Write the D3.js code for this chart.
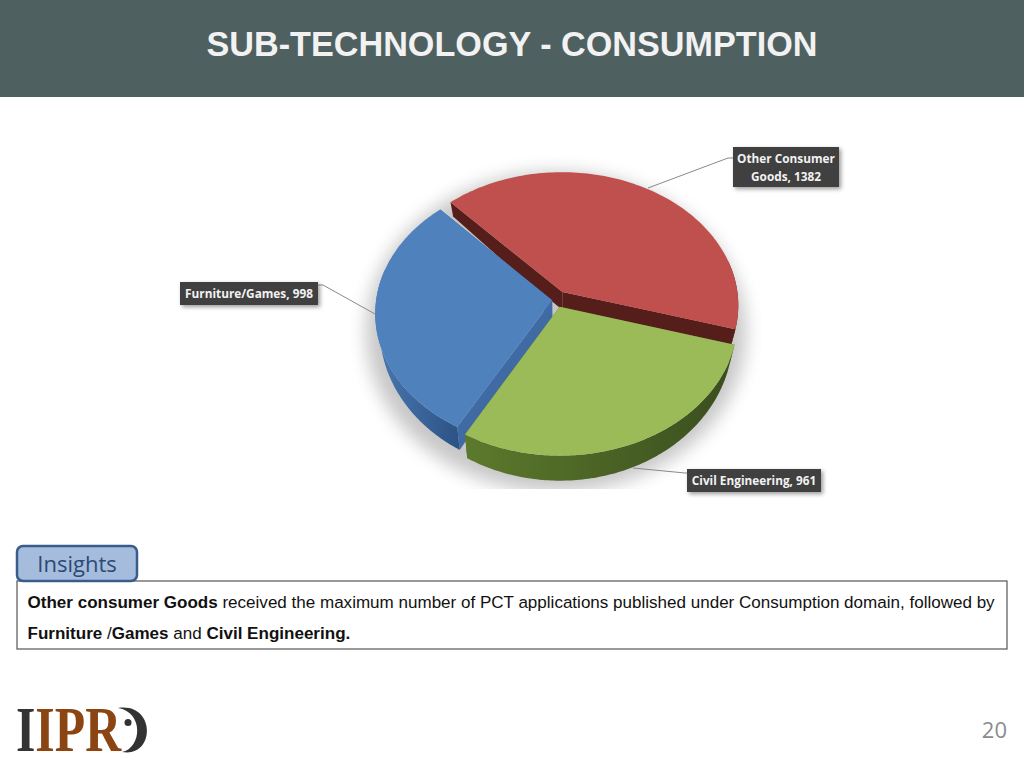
<!DOCTYPE html>
<html><head><meta charset="utf-8">
<script src="https://cdnjs.cloudflare.com/ajax/libs/d3/7.8.5/d3.min.js"></script>
<style>html,body{margin:0;padding:0;background:#fff}svg{display:block}</style></head>
<body><svg id="c" width="1024" height="768"></svg>
<script>
const categories = ["Other Consumer Goods", "Civil Engineering", "Furniture/Games"];
const values = [1382, 961, 998];
const explode = [0.07, 0.055, 0.022];
const topColors = ["#c0504d", "#9bbb59", "#4f81bd"];
const cutColors = ["#551e1b", "#4f6a2a", "#3f6aa3"];
const wallStops = [["#6b2a27","#4f1a18"],["#5c7a2c","#3a4d1e"],["#4a78b2","#2c5285"]];
const labelLines = [["Other Consumer","Goods, 1382"],["Civil Engineering, 961"],["Furniture/Games, 998"]];
const labelBoxes = [[733,147,106,40],[687,469,134,23],[180,282,138,23]];
const leaders = [[[648,188],[728,158],[733,158]],[[633,468],[685,473],[688,473]],[[375,314],[323,285],[318,285]]];
const insightLine1 = [["Other consumer Goods",true],[" received the maximum number of PCT applications published under Consumption domain, followed by",false]];
const insightLine2 = [["Furniture ",true],["/",false],["Games",true],[" and ",false],["Civil Engineering.",true]];

const svg = d3.select("#c");
const defs = svg.append("defs");
defs.append("filter").attr("id","blur").attr("x","-30%").attr("y","-30%").attr("width","160%").attr("height","160%")
  .append("feGaussianBlur").attr("stdDeviation",9);
const ds = defs.append("filter").attr("id","ds").attr("x","-10%").attr("y","-20%").attr("width","125%").attr("height","150%");
ds.append("feDropShadow").attr("dx",2).attr("dy",2).attr("stdDeviation",2).attr("flood-color","#000").attr("flood-opacity",.4);
defs.append("clipPath").attr("id","shadowClip").append("rect").attr("x",340).attr("y",150).attr("width",430).attr("height",339);

// header
svg.append("rect").attr("width",1024).attr("height",97).attr("fill","#4f6060");
svg.append("text").attr("x",512).attr("y",56).attr("text-anchor","middle").attr("fill","#f2f2f2")
  .attr("font-family","Liberation Sans").attr("font-weight","bold").attr("font-size",34.2).text("SUB-TECHNOLOGY - CONSUMPTION");

// pie geometry
const cx=556, cy=300, rx=176, ry=133, k=0.097;
const px=d3.scaleLinear().domain([-1,1]).range([cx-rx,cx+rx]);
const py=d3.scaleLinear().domain([-1,1]).range([cy-ry,cy+ry]);
const proj=(u,v)=>{const w=1-k*v;return [px(u/w),py(v/w)];};
const depth=d3.scaleLinear().domain([200,250,340,455]).range([14,18,17,25]);
const lower=([x,y])=>[cx+(x-cx)*0.975, y+depth(y)];
const deg=Math.PI/180;
const pie=d3.pie().sort(null).value(d=>d).startAngle(-43*deg).endAngle(317*deg);
const arcs=pie(values);
const line=d3.line();

const g=svg.append("g");
g.append("ellipse").attr("cx",556).attr("cy",332).attr("rx",190).attr("ry",160)
  .attr("fill","#000").attr("opacity",.22).attr("filter","url(#blur)").attr("clip-path","url(#shadowClip)");

const drawOrder=[0,2,1];
drawOrder.forEach(i=>{
  const a=arcs[i], mid=(a.startAngle+a.endAngle)/2;
  const ox=Math.sin(mid)*explode[i], oy=-Math.cos(mid)*explode[i];
  const P=t=>proj(ox+Math.sin(t),oy-Math.cos(t));
  const apex=proj(ox,oy);
  const ts=d3.range(0,121).map(j=>a.startAngle+(a.endAngle-a.startAngle)*j/120);
  const rim=ts.map(P);
  const grad=defs.append("linearGradient").attr("id","w"+i).attr("x1","0").attr("x2","1").attr("y1","0").attr("y2","0");
  grad.append("stop").attr("offset","0").attr("stop-color",wallStops[i][0]);
  grad.append("stop").attr("offset","1").attr("stop-color",wallStops[i][1]);
  // cut walls
  [[apex,rim[0]],[apex,rim[120]]].forEach(([p,q])=>{
    const mp=[(p[0]+q[0])/2,(p[1]+q[1])/2];
    g.append("path").attr("d",line([p,mp,q,lower(q),lower(mp),lower(p)])+"Z").attr("fill",cutColors[i]);
  });
  // outer wall
  const front=ts.filter(t=>Math.cos(t)<0.25).map(P);
  if(front.length) g.append("path").attr("d",line(front.concat(front.map(lower).reverse()))+"Z").attr("fill",`url(#w${i})`);
  // top
  g.append("path").attr("d",line([apex,...rim])+"Z").attr("fill",topColors[i]);
});

// leaders and labels
leaders.forEach(l=>svg.append("path").attr("d",line(l)).attr("fill","none").attr("stroke","#8a8a8a").attr("stroke-width",1));
labelBoxes.forEach((b,i)=>{
  svg.append("rect").attr("x",b[0]).attr("y",b[1]).attr("width",b[2]).attr("height",b[3]).attr("fill","#3f3f3f").attr("filter","url(#ds)");
  labelLines[i].forEach((t,j)=>svg.append("text").attr("x",b[0]+b[2]/2).attr("y",b[1]+15.5+j*18).attr("text-anchor","middle")
    .attr("fill","#f2f2f2").attr("font-family","Open Sans").attr("font-weight",700).attr("font-size",11.8).text(t));
});

// insights
svg.append("rect").attr("x",17).attr("y",581).attr("width",990).attr("height",68).attr("fill","#fff").attr("stroke","#555").attr("stroke-width",1.2);
svg.append("rect").attr("x",17).attr("y",546).attr("width",120).attr("height",35).attr("rx",6).attr("fill","#a5bcdc").attr("stroke","#385d8a").attr("stroke-width",2.5);
svg.append("text").attr("x",77).attr("y",572).attr("text-anchor","middle").attr("fill","#2c4a75").attr("font-family","Open Sans").attr("font-size",22).text("Insights");
[[insightLine1,608],[insightLine2,639]].forEach(([parts,y])=>{
  const t=svg.append("text").attr("x",27.5).attr("y",y).attr("font-family","Liberation Sans").attr("font-size",17.05).attr("fill","#111").attr("xml:space","preserve");
  parts.forEach(p=>t.append("tspan").attr("font-weight",p[1]?"bold":"normal").text(p[0]));
});

// logo
const logo=svg.append("g");
const logoText=logo.append("text").attr("transform","translate(16,751) scale(0.79,1)").attr("font-family","Liberation Serif").attr("font-weight","bold").attr("font-size",63);
logoText.append("tspan").attr("fill","#333").text("I");
logoText.append("tspan").attr("fill","#8a4513").text("IPR");
logo.append("path").attr("d","M118,708 C156,702 156,758 122,752 C142,748 144,712 118,708Z").attr("fill","#333");
logo.append("circle").attr("cx",128).attr("cy",722.5).attr("r",3.5).attr("fill","#333");

svg.append("text").attr("x",1007).attr("y",738).attr("text-anchor","end").attr("fill","#8c8c8c").attr("font-family","Open Sans").attr("font-size",22).text("20");
</script></body></html>
